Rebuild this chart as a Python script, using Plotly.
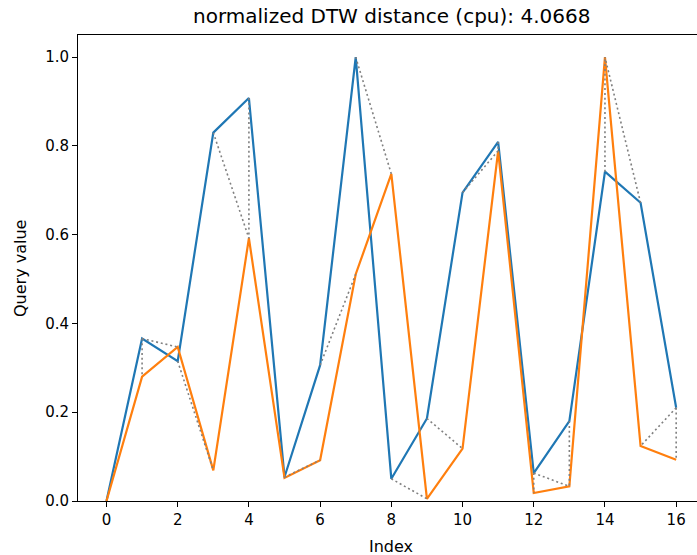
import plotly.graph_objects as go

index = list(range(17))
query = [0.0, 0.366, 0.315, 0.830, 0.908, 0.054, 0.306, 1.0, 0.050, 0.186,
         0.695, 0.809, 0.063, 0.180, 0.742, 0.672, 0.210]
reference = [0.0, 0.280, 0.347, 0.069, 0.592, 0.052, 0.092, 0.511, 0.737, 0.005,
             0.118, 0.789, 0.018, 0.033, 1.0, 0.124, 0.093]
# warping path: (query index, reference index)
path_q = [0, 1, 1, 2, 3, 4, 5, 5, 6, 7, 8, 9, 10, 11, 12, 12, 13, 14, 15, 16, 16]
path_r = [0, 1, 2, 3, 4, 4, 5, 6, 7, 8, 9, 10, 11, 11, 12, 13, 13, 14, 14, 15, 16]
title_text = "normalized DTW distance (cpu): 4.0668"

px_x, px_y = [], []
for qi, ri in zip(path_q, path_r):
    px_x += [index[qi], index[ri], None]
    px_y += [query[qi], reference[ri], None]

fig = go.Figure()
fig.add_trace(go.Scatter(x=index, y=query, mode="lines",
                         line=dict(color="#1f77b4", width=2.2), name="query"))
fig.add_trace(go.Scatter(x=index, y=reference, mode="lines",
                         line=dict(color="#ff7f0e", width=2.2), name="reference"))
fig.add_trace(go.Scatter(x=px_x, y=px_y, mode="lines",
                         line=dict(color="gray", width=1.6, dash="2px,2.8px"),
                         name="path"))

font = "DejaVu Sans"
fig.update_layout(
    width=697, height=555,
    margin=dict(l=78, r=0, t=35, b=54),
    plot_bgcolor="white", paper_bgcolor="white",
    showlegend=False,
    font=dict(family=font, size=15, color="black"),
    xaxis=dict(range=[-0.8, 16.585], tickmode="array", tickvals=list(range(0, 17, 2)),
               showgrid=False, zeroline=False, showline=True, linecolor="black",
               linewidth=1, mirror=True, ticks="outside", ticklen=5, tickwidth=1,
               tickcolor="black", tickfont=dict(size=15)),
    yaxis=dict(range=[0, 1.05], tickmode="array", tickvals=[0, 0.2, 0.4, 0.6, 0.8, 1.0],
               ticktext=["0.0", "0.2", "0.4", "0.6", "0.8", "1.0"],
               showgrid=False, zeroline=False, showline=True, linecolor="black",
               linewidth=1, ticks="outside", ticklen=5, tickwidth=1,
               tickcolor="black", tickfont=dict(size=15)),
    annotations=[
        dict(text=title_text, xref="paper", yref="paper", x=0.5057, y=1.0408,
             xanchor="center", yanchor="middle", showarrow=False,
             font=dict(family=font, size=20)),
        dict(text="Index", xref="paper", yref="paper", x=0.5057, y=-0.0966,
             xanchor="center", yanchor="middle", showarrow=False,
             font=dict(family=font, size=16)),
        dict(text="Query value", xref="paper", yref="paper", x=-0.0937, y=0.5,
             xanchor="center", yanchor="middle", showarrow=False, textangle=-90,
             font=dict(family=font, size=16)),
    ],
)

fig.write_html("out.html",
               config={"displayModeBar": False},
               post_script="document.body.style.margin='0';document.body.style.overflow='hidden';")
